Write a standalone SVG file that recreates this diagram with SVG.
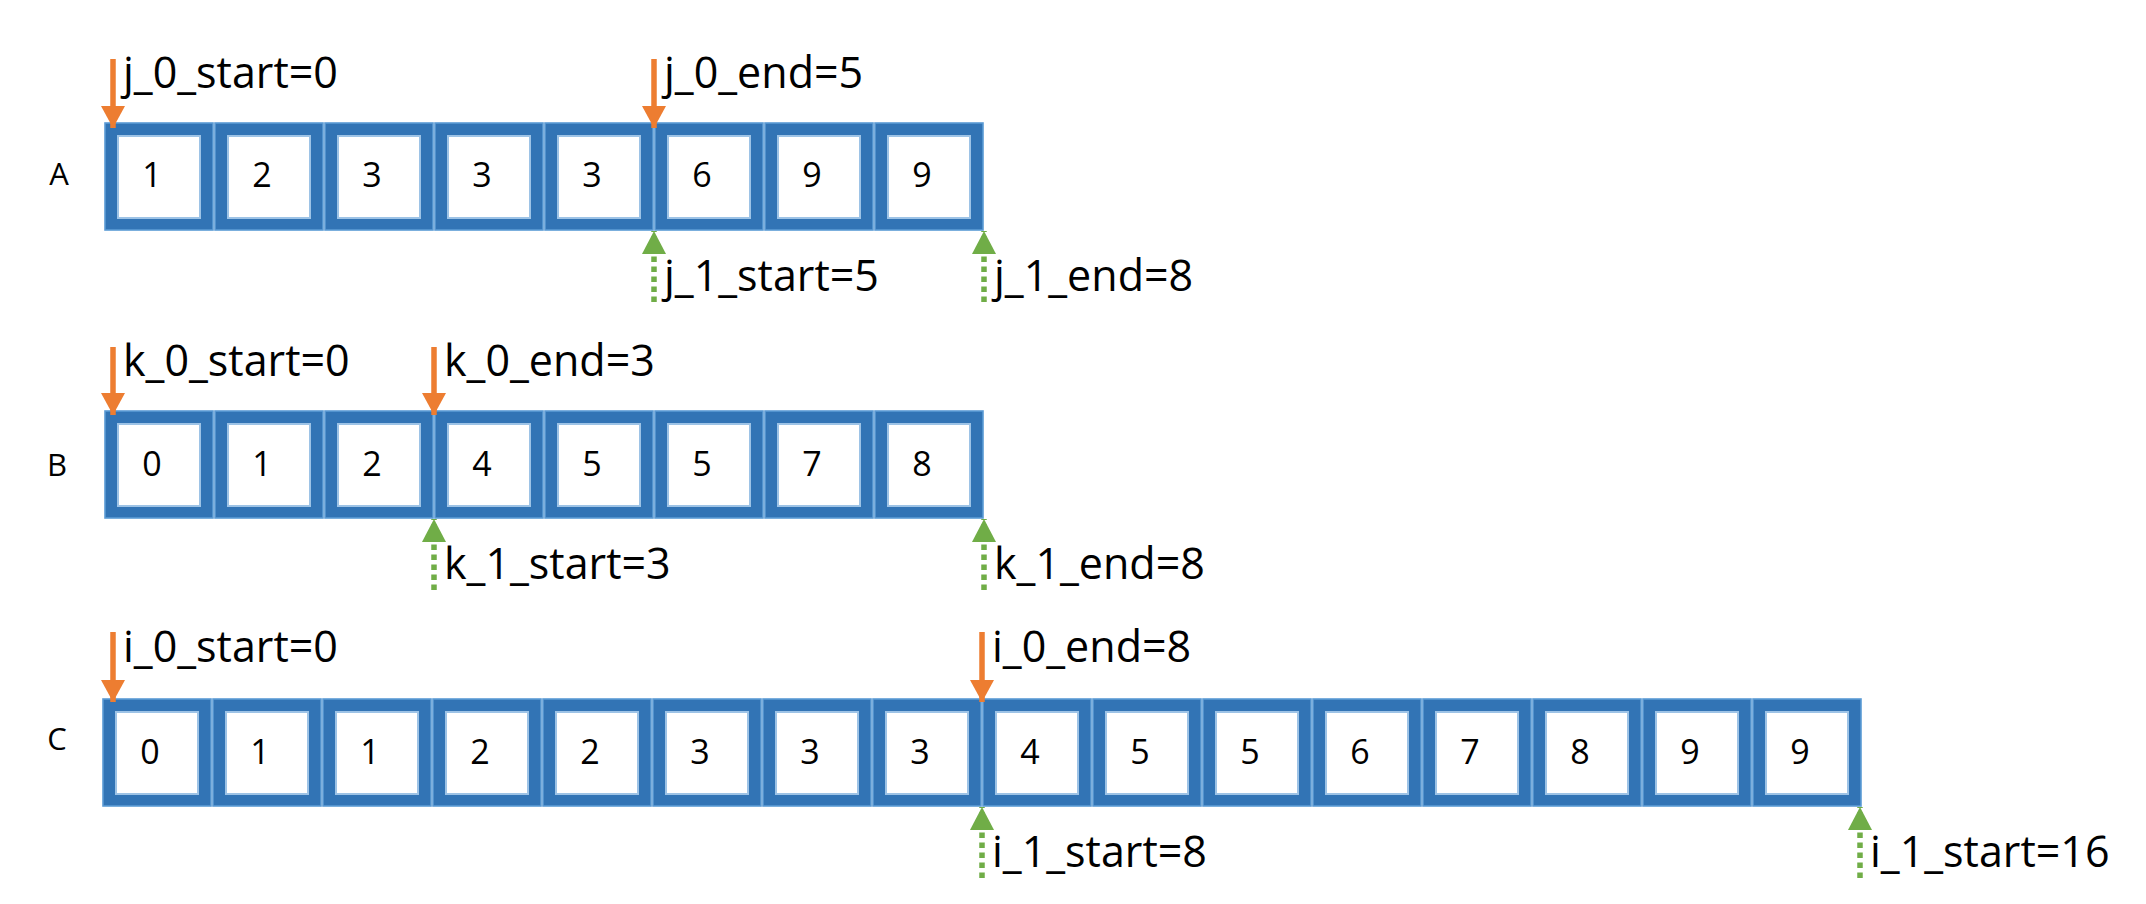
<svg xmlns="http://www.w3.org/2000/svg" width="2146" height="904" viewBox="0 0 2146 904">
<style>
.bg{fill:#ffffff}
.cell{fill:#3274b5;stroke:#5b9bd5;stroke-width:1.6}
.inner{fill:#ffffff;stroke:#9dc3e6;stroke-width:2}
.num{font-family:"Open Sans","Liberation Sans",sans-serif;font-size:34px;fill:#000;text-anchor:middle}
.row{font-family:"Open Sans","Liberation Sans",sans-serif;font-size:31px;fill:#000;text-anchor:middle}
.lbl{font-family:"Open Sans","Liberation Sans",sans-serif;font-size:43px;fill:#000}
.orange{stroke:#ed7d31;stroke-width:5.5;fill:none}
.green{stroke:#70ad47;stroke-width:5.5;fill:none;stroke-dasharray:5.5 4.5}
</style>
<defs>
<marker id="headO" markerUnits="userSpaceOnUse" viewBox="0 0 22 24" markerWidth="22" markerHeight="24" refX="22" refY="12" orient="auto">
<path d="M0,0 L22,12 L0,24 Z" fill="#ed7d31"/>
</marker>
<marker id="headG" markerUnits="userSpaceOnUse" viewBox="0 0 23 24" markerWidth="23" markerHeight="24" refX="23" refY="12" orient="auto">
<path d="M0,0 L23,12 L0,24 Z" fill="#70ad47"/>
</marker>
</defs>
<rect class="bg" x="0" y="0" width="2146" height="904"/>

<g id="rowA">
<text class="row" x="59" y="185">A</text>
<g id="A0"><rect class="cell" x="105" y="123" width="108" height="107"/><rect class="inner" x="118" y="136" width="82" height="82"/><text class="num" x="152" y="187">1</text></g>
<g id="A1"><rect class="cell" x="215" y="123" width="108" height="107"/><rect class="inner" x="228" y="136" width="82" height="82"/><text class="num" x="262" y="187">2</text></g>
<g id="A2"><rect class="cell" x="325" y="123" width="108" height="107"/><rect class="inner" x="338" y="136" width="82" height="82"/><text class="num" x="372" y="187">3</text></g>
<g id="A3"><rect class="cell" x="435" y="123" width="108" height="107"/><rect class="inner" x="448" y="136" width="82" height="82"/><text class="num" x="482" y="187">3</text></g>
<g id="A4"><rect class="cell" x="545" y="123" width="108" height="107"/><rect class="inner" x="558" y="136" width="82" height="82"/><text class="num" x="592" y="187">3</text></g>
<g id="A5"><rect class="cell" x="655" y="123" width="108" height="107"/><rect class="inner" x="668" y="136" width="82" height="82"/><text class="num" x="702" y="187">6</text></g>
<g id="A6"><rect class="cell" x="765" y="123" width="108" height="107"/><rect class="inner" x="778" y="136" width="82" height="82"/><text class="num" x="812" y="187">9</text></g>
<g id="A7"><rect class="cell" x="875" y="123" width="108" height="107"/><rect class="inner" x="888" y="136" width="82" height="82"/><text class="num" x="922" y="187">9</text></g>
</g>

<g id="rowB">
<text class="row" x="57" y="476">B</text>
<g id="B0"><rect class="cell" x="105" y="411" width="108" height="107"/><rect class="inner" x="118" y="424" width="82" height="82"/><text class="num" x="152" y="476">0</text></g>
<g id="B1"><rect class="cell" x="215" y="411" width="108" height="107"/><rect class="inner" x="228" y="424" width="82" height="82"/><text class="num" x="262" y="476">1</text></g>
<g id="B2"><rect class="cell" x="325" y="411" width="108" height="107"/><rect class="inner" x="338" y="424" width="82" height="82"/><text class="num" x="372" y="476">2</text></g>
<g id="B3"><rect class="cell" x="435" y="411" width="108" height="107"/><rect class="inner" x="448" y="424" width="82" height="82"/><text class="num" x="482" y="476">4</text></g>
<g id="B4"><rect class="cell" x="545" y="411" width="108" height="107"/><rect class="inner" x="558" y="424" width="82" height="82"/><text class="num" x="592" y="476">5</text></g>
<g id="B5"><rect class="cell" x="655" y="411" width="108" height="107"/><rect class="inner" x="668" y="424" width="82" height="82"/><text class="num" x="702" y="476">5</text></g>
<g id="B6"><rect class="cell" x="765" y="411" width="108" height="107"/><rect class="inner" x="778" y="424" width="82" height="82"/><text class="num" x="812" y="476">7</text></g>
<g id="B7"><rect class="cell" x="875" y="411" width="108" height="107"/><rect class="inner" x="888" y="424" width="82" height="82"/><text class="num" x="922" y="476">8</text></g>
</g>

<g id="rowC">
<text class="row" x="57" y="750">C</text>
<g id="C0"><rect class="cell" x="103" y="699" width="108" height="107"/><rect class="inner" x="116" y="712" width="82" height="82"/><text class="num" x="150" y="764">0</text></g>
<g id="C1"><rect class="cell" x="213" y="699" width="108" height="107"/><rect class="inner" x="226" y="712" width="82" height="82"/><text class="num" x="260" y="764">1</text></g>
<g id="C2"><rect class="cell" x="323" y="699" width="108" height="107"/><rect class="inner" x="336" y="712" width="82" height="82"/><text class="num" x="370" y="764">1</text></g>
<g id="C3"><rect class="cell" x="433" y="699" width="108" height="107"/><rect class="inner" x="446" y="712" width="82" height="82"/><text class="num" x="480" y="764">2</text></g>
<g id="C4"><rect class="cell" x="543" y="699" width="108" height="107"/><rect class="inner" x="556" y="712" width="82" height="82"/><text class="num" x="590" y="764">2</text></g>
<g id="C5"><rect class="cell" x="653" y="699" width="108" height="107"/><rect class="inner" x="666" y="712" width="82" height="82"/><text class="num" x="700" y="764">3</text></g>
<g id="C6"><rect class="cell" x="763" y="699" width="108" height="107"/><rect class="inner" x="776" y="712" width="82" height="82"/><text class="num" x="810" y="764">3</text></g>
<g id="C7"><rect class="cell" x="873" y="699" width="108" height="107"/><rect class="inner" x="886" y="712" width="82" height="82"/><text class="num" x="920" y="764">3</text></g>
<g id="C8"><rect class="cell" x="983" y="699" width="108" height="107"/><rect class="inner" x="996" y="712" width="82" height="82"/><text class="num" x="1030" y="764">4</text></g>
<g id="C9"><rect class="cell" x="1093" y="699" width="108" height="107"/><rect class="inner" x="1106" y="712" width="82" height="82"/><text class="num" x="1140" y="764">5</text></g>
<g id="C10"><rect class="cell" x="1203" y="699" width="108" height="107"/><rect class="inner" x="1216" y="712" width="82" height="82"/><text class="num" x="1250" y="764">5</text></g>
<g id="C11"><rect class="cell" x="1313" y="699" width="108" height="107"/><rect class="inner" x="1326" y="712" width="82" height="82"/><text class="num" x="1360" y="764">6</text></g>
<g id="C12"><rect class="cell" x="1423" y="699" width="108" height="107"/><rect class="inner" x="1436" y="712" width="82" height="82"/><text class="num" x="1470" y="764">7</text></g>
<g id="C13"><rect class="cell" x="1533" y="699" width="108" height="107"/><rect class="inner" x="1546" y="712" width="82" height="82"/><text class="num" x="1580" y="764">8</text></g>
<g id="C14"><rect class="cell" x="1643" y="699" width="108" height="107"/><rect class="inner" x="1656" y="712" width="82" height="82"/><text class="num" x="1690" y="764">9</text></g>
<g id="C15"><rect class="cell" x="1753" y="699" width="108" height="107"/><rect class="inner" x="1766" y="712" width="82" height="82"/><text class="num" x="1800" y="764">9</text></g>
</g>

<g id="connectors">
<line class="orange" x1="113" y1="59" x2="113" y2="128" marker-end="url(#headO)"/>
<line class="orange" x1="654" y1="59" x2="654" y2="128" marker-end="url(#headO)"/>
<line class="green" x1="654" y1="302" x2="654" y2="231" marker-end="url(#headG)"/>
<line class="green" x1="984" y1="302" x2="984" y2="231" marker-end="url(#headG)"/>

<line class="orange" x1="113" y1="347" x2="113" y2="415" marker-end="url(#headO)"/>
<line class="orange" x1="434" y1="347" x2="434" y2="415" marker-end="url(#headO)"/>
<line class="green" x1="434" y1="590" x2="434" y2="519" marker-end="url(#headG)"/>
<line class="green" x1="984" y1="590" x2="984" y2="519" marker-end="url(#headG)"/>

<line class="orange" x1="113" y1="632" x2="113" y2="702" marker-end="url(#headO)"/>
<line class="orange" x1="982" y1="632" x2="982" y2="702" marker-end="url(#headO)"/>
<line class="green" x1="982" y1="878" x2="982" y2="807" marker-end="url(#headG)"/>
<line class="green" x1="1860" y1="878" x2="1860" y2="807" marker-end="url(#headG)"/>
</g>

<g id="labels">
<text class="lbl" x="123" y="88">j_0_start=0</text>
<text class="lbl" x="664" y="88">j_0_end=5</text>
<text class="lbl" x="664" y="291">j_1_start=5</text>
<text class="lbl" x="994" y="291">j_1_end=8</text>

<text class="lbl" x="123" y="376">k_0_start=0</text>
<text class="lbl" x="444" y="376">k_0_end=3</text>
<text class="lbl" x="444" y="579">k_1_start=3</text>
<text class="lbl" x="994" y="579">k_1_end=8</text>

<text class="lbl" x="123" y="662">i_0_start=0</text>
<text class="lbl" x="992" y="662">i_0_end=8</text>
<text class="lbl" x="992" y="867">i_1_start=8</text>
<text class="lbl" x="1870" y="867">i_1_start=16</text>
</g>
</svg>
